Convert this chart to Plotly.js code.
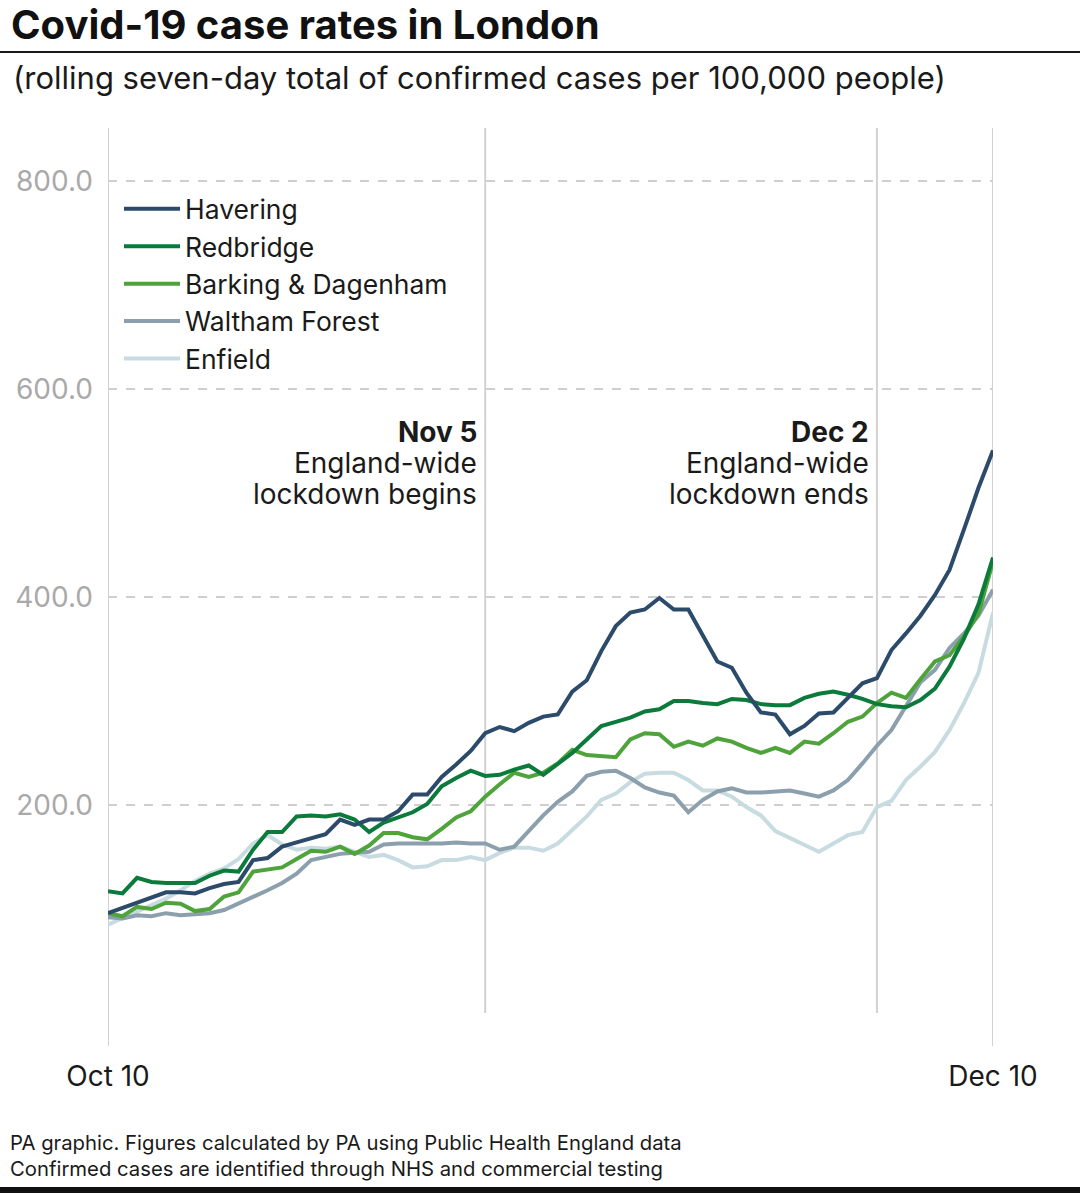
<!DOCTYPE html>
<html>
<head>
<meta charset="utf-8">
<script src="https://cdn.plot.ly/plotly-3.0.1.min.js"></script>
<style>html,body{margin:0;padding:0;background:#fff}#chart{width:1080px;height:1193px}</style>
</head>
<body>
<div id="chart"></div>
<script>
// ---- data ----
const startDate = '2020-10-10';
const nDays = 62;
const seriesNames = ['Havering', 'Redbridge', 'Barking & Dagenham', 'Waltham Forest', 'Enfield'];
const havering = [96,101,107,112,116,116,115,120,124,126,147,149,160,164,168,172,186,181,186,186,194,210,210,227,239,252,269,275,271,279,285,287,309,320,348,372,385,388,399,388,388,362,338,332,308,289,287,268,276,288,289,303,317,322,349,365,382,402,426,465,505,541];
const redbridge = [117,115,130,126,125,125,125,132,137,136,157,174,174,189,190,189,191,186,174,183,188,193,201,218,226,233,228,229,234,238,229,240,250,263,276,280,284,290,292,300,300,298,297,302,301,297,296,296,303,307,309,306,302,297,295,294,301,312,333,360,393,438];
const barking = [96,93,102,100,106,105,98,100,112,116,136,138,140,148,156,155,160,153,161,173,173,169,167,177,188,194,208,220,231,227,231,240,253,248,247,246,263,269,268,256,261,257,264,261,255,250,255,250,261,259,269,280,285,298,308,303,321,338,344,362,384,434];
const waltham = [92,91,94,93,96,94,95,96,99,105,111,118,125,134,147,150,153,154,155,162,163,163,163,163,164,163,163,157,160,175,190,203,213,228,232,233,226,217,212,209,193,205,213,216,212,212,213,214,211,208,214,224,240,257,272,295,318,330,351,365,382,407];
const enfield = [85,91,97,103,110,118,127,134,139,148,163,171,162,157,159,158,160,155,150,152,147,140,141,147,147,150,147,154,159,159,156,163,176,189,205,211,222,230,231,231,224,214,214,208,198,190,175,168,162,155,163,171,174,198,204,224,237,251,272,298,327,385];
const xTickVals = ['2020-10-10', '2020-12-10'];
const xTickText = ['Oct 10', 'Dec 10'];
const yTickVals = [0, 200, 400, 600, 800];
const yTickText = ['', '200.0', '400.0', '600.0', '800.0'];
const eventDates = ['2020-11-05', '2020-12-02'];
const eventTitles = ['Nov 5', 'Dec 2'];
const eventLine1 = ['England-wide', 'England-wide'];
const eventLine2 = ['lockdown begins', 'lockdown ends'];

// ---- build dates ----
const dates = [];
{
  const d0 = new Date(startDate + 'T00:00:00Z');
  for (let i = 0; i < nDays; i++) {
    const d = new Date(d0.getTime() + i * 86400000);
    dates.push(d.toISOString().slice(0, 10));
  }
}

const colors = ['#2c4a6a', '#0b7a3b', '#4ea43a', '#8b9fac', '#c7dbe1'];
const values = [havering, redbridge, barking, waltham, enfield];
const FONT = 'Inter, Roboto, "Liberation Sans", sans-serif';

// plot area in pixels
const L = 108, R = 993, T = 129, B = 1013;
const W = 1080, H = 1193;
const xp = px => (px - L) / (R - L);
const yp = py => (B - py) / (B - T);

// draw order: lightest behind
const order = [4, 3, 2, 1, 0];
const traces = order.map(i => ({
  x: dates, y: values[i], name: seriesNames[i], type: 'scatter', mode: 'lines',
  line: {color: colors[i], width: 4}, legendrank: i + 1, hoverinfo: 'skip'
}));

const shapes = [];
xTickVals.forEach(d => shapes.push({type: 'line', xref: 'x', yref: 'paper', x0: d, x1: d, y0: yp(128), y1: yp(1046), line: {color: '#d2d2d2', width: 2}, layer: 'below'}));
eventDates.forEach(d => shapes.push({type: 'line', xref: 'x', yref: 'paper', x0: d, x1: d, y0: yp(128), y1: 0, line: {color: '#d2d2d2', width: 2}, layer: 'below'}));
shapes.push({type: 'line', xref: 'paper', yref: 'paper', x0: xp(0), x1: xp(W), y0: yp(52), y1: yp(52), line: {color: '#1a1a1a', width: 2}});
shapes.push({type: 'rect', xref: 'paper', yref: 'paper', x0: xp(0), x1: xp(W), y0: yp(1187), y1: yp(1194), fillcolor: '#111', line: {width: 0}});

const annotations = [];
annotations.push({xref: 'paper', yref: 'paper', x: xp(11), y: yp(78), xanchor: 'left', yanchor: 'middle', showarrow: false,
  text: '(rolling seven-day total of confirmed cases per 100,000 people)', font: {family: FONT, size: 31, color: '#1a1a1a'}});
annotations.push({xref: 'paper', yref: 'paper', x: xp(8), y: yp(1142), xanchor: 'left', yanchor: 'middle', showarrow: false,
  text: 'PA graphic. Figures calculated by PA using Public Health England data', font: {family: FONT, size: 20.3, color: '#1a1a1a'}});
annotations.push({xref: 'paper', yref: 'paper', x: xp(8), y: yp(1168), xanchor: 'left', yanchor: 'middle', showarrow: false,
  text: 'Confirmed cases are identified through NHS and commercial testing', font: {family: FONT, size: 20.3, color: '#1a1a1a'}});
eventDates.forEach((d, i) => {
  const base = {xref: 'x', yref: 'paper', x: d, xanchor: 'right', yanchor: 'middle', xshift: -6, showarrow: false};
  annotations.push(Object.assign({}, base, {y: yp(432), text: '<b>' + eventTitles[i] + '</b>', font: {family: FONT, size: 28, color: '#1a1a1a'}}));
  annotations.push(Object.assign({}, base, {y: yp(463), text: eventLine1[i], font: {family: FONT, size: 28, color: '#1a1a1a'}}));
  annotations.push(Object.assign({}, base, {y: yp(494), text: eventLine2[i], font: {family: FONT, size: 28, color: '#1a1a1a'}}));
});

const layout = {
  width: W, height: H,
  margin: {l: L, r: W - R, t: T, b: H - B, pad: 0},
  paper_bgcolor: '#fff', plot_bgcolor: '#fff',
  font: {family: FONT, color: '#1a1a1a'},
  title: {text: '<b>Covid-19 case rates in London</b>', x: 11 / W, xanchor: 'left', xref: 'container', y: 1 - 25 / H, yanchor: 'middle', yref: 'container',
    font: {family: FONT, size: 40, color: '#111'}},
  showlegend: true,
  legend: {x: xp(119), y: yp(185), xanchor: 'left', yanchor: 'top', bgcolor: 'rgba(0,0,0,0)', itemwidth: 56,
    font: {family: FONT, size: 26.5, color: '#1a1a1a'}, tracegroupgap: 0, traceorder: 'normal'},
  xaxis: {type: 'date', range: [dates[0], dates[nDays - 1]], tickvals: xTickVals, ticktext: xTickText,
    showgrid: false, zeroline: false, showline: false, ticks: '', ticklabelstandoff: 44,
    tickfont: {family: FONT, size: 28, color: '#1a1a1a'}, fixedrange: true},
  yaxis: {range: [0, 850], tickvals: yTickVals, ticktext: yTickText, showgrid: true, gridcolor: '#cfcfcf', gridwidth: 1.5, griddash: 'dash',
    zeroline: false, showline: false, ticks: '', ticklabelstandoff: 14,
    tickfont: {family: FONT, size: 28, color: '#a9a9a9'}, fixedrange: true},
  shapes: shapes, annotations: annotations, hovermode: false
};

Plotly.newPlot('chart', traces, layout, {displayModeBar: false, staticPlot: true});
</script>
</body>
</html>
